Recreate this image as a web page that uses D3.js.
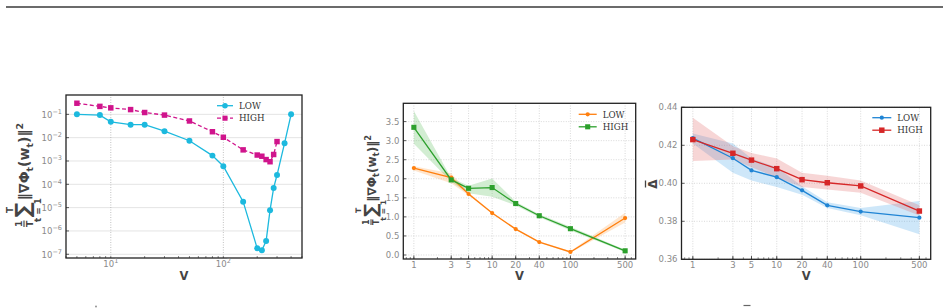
<!DOCTYPE html>
<html>
<head>
<meta charset="utf-8">
<script src="https://cdn.jsdelivr.net/npm/d3@7"></script>
<style>
  body { margin: 0; background: #fff; }
  svg { display: block; }
</style>
</head>
<body>
<script>
// ---- data: panel 1 (log-log) ----
let vLow1 = [5, 8, 10, 15, 20, 30, 50, 80, 100, 150, 200, 220, 240, 260, 280, 300, 350, 400];
let low1 = [0.1, 0.093, 0.048, 0.036, 0.036, 0.019, 0.0074, 0.0017, 6e-4, 1.8e-5, 1.8e-7, 1.5e-7, 3.7e-7, 7.8e-6, 7e-5, 2.5e-4, 5.8e-3, 0.1];
let vHigh1 = [5, 8, 10, 15, 20, 30, 50, 80, 100, 150, 200, 220, 240, 260, 280, 300];
let high1 = [0.3, 0.22, 0.19, 0.16, 0.12, 0.093, 0.052, 0.018, 0.0104, 0.003, 0.0018, 0.0016, 0.00115, 0.00093, 0.0019, 0.0068];
let yTicks1 = [-7, -6, -5, -4, -3, -2, -1];
let xTicks1 = [1, 2];

// ---- data: panels 2 and 3 share V ----
let V = [1, 3, 5, 10, 20, 40, 100, 500];
let vTickLabels = ["1", "3", "5", "10", "20", "40", "100", "500"];

let low2 = [2.28, 2.03, 1.60, 1.10, 0.68, 0.34, 0.08, 0.97];
let low2Lo = [2.22, 1.88, 1.57, 1.08, 0.66, 0.32, 0.06, 0.85];
let low2Hi = [2.33, 2.14, 1.64, 1.12, 0.70, 0.36, 0.10, 1.11];
let high2 = [3.35, 1.97, 1.75, 1.77, 1.35, 1.03, 0.69, 0.11];
let high2Lo = [2.92, 1.92, 1.62, 1.53, 1.30, 0.99, 0.64, 0.08];
let high2Hi = [3.78, 2.02, 1.82, 2.01, 1.40, 1.07, 0.74, 0.14];
let yTicks2 = [0, 0.5, 1.0, 1.5, 2.0, 2.5, 3.0, 3.5];

let low3 = [0.4238, 0.4132, 0.4068, 0.4032, 0.3963, 0.3884, 0.3851, 0.3819];
let low3Lo = [0.4210, 0.4056, 0.4015, 0.3980, 0.3940, 0.3870, 0.3832, 0.3732];
let low3Hi = [0.4262, 0.4210, 0.4130, 0.4085, 0.3985, 0.3900, 0.3870, 0.3907];
let high3 = [0.4230, 0.4158, 0.4122, 0.4077, 0.4019, 0.4003, 0.3986, 0.3854];
let high3Lo = [0.4118, 0.4125, 0.4085, 0.4030, 0.3980, 0.3968, 0.3950, 0.3830];
let high3Hi = [0.4345, 0.4195, 0.4160, 0.4130, 0.4055, 0.4040, 0.4015, 0.3885];
let yTicks3 = [0.36, 0.38, 0.40, 0.42, 0.44];

let seriesNames = ["LOW", "HIGH"];

const tickFont = "DejaVu Sans";
const tickColor = "#8a8a8a";
const labelColor = "#444";

let svg = d3.select("body").append("svg")
    .attr("width", 948)
    .attr("height", 308);

// top rule
svg.append("line")
    .attr("x1", 6).attr("x2", 943)
    .attr("y1", 7).attr("y2", 7)
    .style("stroke", "#3a3a3a").style("stroke-width", 1.6);

let minorLogTicks = (scale) => {
    let [a, b] = scale.domain();
    let out = [];
    for (let e = Math.floor(Math.log10(a)); e <= Math.ceil(Math.log10(b)); e++) {
        for (let m = 1; m < 10; m++) {
            let v = m * Math.pow(10, e);
            if (v >= a && v <= b) out.push(v);
        }
    }
    return out;
}

let drawLine = (g, xs, ys, x, y, color, dash) => {
    g.append("path")
        .datum(xs.map((v, i) => [v, ys[i]]))
        .attr("d", d3.line().x(d => x(d[0])).y(d => y(d[1])))
        .style("fill", "none")
        .style("stroke", color)
        .style("stroke-width", 1.3)
        .style("stroke-dasharray", dash || null);
}

let drawBand = (g, xs, lo, hi, x, y, color) => {
    g.append("path")
        .datum(xs.map((v, i) => [v, lo[i], hi[i]]))
        .attr("d", d3.area().x(d => x(d[0])).y0(d => y(d[1])).y1(d => y(d[2])))
        .style("fill", color)
        .style("fill-opacity", 0.25)
        .style("stroke", "none");
}

let drawMarkers = (g, xs, ys, x, y, color, shape, size) => {
    let sym = d3.symbol().type(shape === "square" ? d3.symbolSquare : d3.symbolCircle).size(size);
    g.selectAll(null)
        .data(xs.map((v, i) => [v, ys[i]]))
        .enter()
        .append("path")
            .attr("d", sym)
            .attr("transform", d => `translate(${x(d[0])},${y(d[1])})`)
            .style("fill", color);
}

let drawFrame = (g, x, y) => {
    let [x0, x1] = x.range();
    let [y0, y1] = y.range();
    g.append("rect")
        .attr("x", x0).attr("y", y1)
        .attr("width", x1 - x0).attr("height", y0 - y1)
        .style("fill", "none")
        .style("stroke", "#222")
        .style("stroke-width", 1.3);
}

let drawLegend = (g, lx, ly, len, gap, items) => {
    items.forEach((it, i) => {
        let yy = ly + i * gap;
        g.append("line")
            .attr("x1", lx).attr("x2", lx + len)
            .attr("y1", yy).attr("y2", yy)
            .style("stroke", it.color)
            .style("stroke-width", 1.3)
            .style("stroke-dasharray", it.dash || null);
        g.append("path")
            .attr("d", d3.symbol().type(it.shape === "square" ? d3.symbolSquare : d3.symbolCircle).size(it.size))
            .attr("transform", `translate(${lx + len / 2},${yy})`)
            .style("fill", it.color);
        g.append("text")
            .text(it.name)
            .attr("x", lx + len + 6)
            .attr("y", yy + 3.2)
            .style("font-family", "DejaVu Serif")
            .style("font-size", "8.7px")
            .style("fill", "#333");
    });
}

let drawV = (g, cx, baseline) => {
    g.append("text")
        .text("V")
        .attr("x", cx).attr("y", baseline)
        .attr("text-anchor", "middle")
        .style("font-family", "DejaVu Sans")
        .style("font-weight", "bold")
        .style("font-size", "11.5px")
        .style("fill", labelColor);
}

// gradient-norm label, built piece by piece, scaled to a length and centred
let gradLabel = (cx, cy, len) => {
    let outer = svg.append("g").attr("transform", `translate(${cx},${cy}) rotate(-90)`);
    let g = outer.append("g");
    let st = (t) => t.style("font-family", "DejaVu Sans").style("font-weight", "bold").style("fill", labelColor);
    let xpos = 0;
    // 1/T
    st(g.append("text").text("1").attr("x", xpos + 2.8).attr("y", -2).attr("text-anchor", "middle").style("font-size", "8px"));
    st(g.append("text").text("T").attr("x", xpos + 2.8).attr("y", 7.5).attr("text-anchor", "middle").style("font-size", "8px"));
    g.append("line").attr("x1", xpos).attr("x2", xpos + 5.6).attr("y1", 0).attr("y2", 0)
        .style("stroke", labelColor).style("stroke-width", 1);
    xpos += 8;
    // sum with limits
    let sig = st(g.append("text").text("\u2211").attr("x", xpos).attr("y", 5.5).style("font-size", "18px"));
    let sw = sig.node().getComputedTextLength();
    st(g.append("text").text("T").attr("x", xpos + sw / 2).attr("y", -9.5).attr("text-anchor", "middle").style("font-size", "7.5px"));
    st(g.append("text").text("t = 1").attr("x", xpos + sw / 2).attr("y", 14.5).attr("text-anchor", "middle").style("font-size", "7.5px"));
    xpos += sw + 2;
    let body = st(g.append("text").attr("x", xpos).attr("y", 4.5).style("font-size", "12px"));
    body.append("tspan").text("\u2016\u2207\u03a6");
    body.append("tspan").text("t").attr("dy", 3).style("font-size", "8px");
    body.append("tspan").text("(w").attr("dy", -3);
    body.append("tspan").text("t").attr("dy", 3).style("font-size", "8px");
    body.append("tspan").text(")\u2016").attr("dy", -3);
    body.append("tspan").text("2").attr("dy", -5).style("font-size", "8px");
    let bb = g.node().getBBox();
    let k = len / bb.width;
    g.attr("transform", `scale(${k}) translate(${-(bb.x + bb.width / 2)},0)`);
}

// ================= panel 1 =================
{
    let x = d3.scaleLog().domain([4, 500]).range([66, 302]);
    let y = d3.scaleLog().domain([Math.pow(10, -7.16), Math.pow(10, -0.17)]).range([258, 95]);
    let g = svg.append("g");
    let [x0, x1] = x.range();
    let [y0, y1] = y.range();

    g.selectAll(null).data(yTicks1).enter().append("line")
        .attr("x1", x0).attr("x2", x1)
        .attr("y1", d => y(Math.pow(10, d))).attr("y2", d => y(Math.pow(10, d)))
        .style("stroke", "#e4e4e4").style("stroke-width", 1);
    g.selectAll(null).data(xTicks1).enter().append("line")
        .attr("x1", d => x(Math.pow(10, d))).attr("x2", d => x(Math.pow(10, d)))
        .attr("y1", y0).attr("y2", y1)
        .style("stroke", "#b0b0b0").style("stroke-width", 0.8).style("stroke-dasharray", "1,1.5");

    drawLine(g, vHigh1, high1, x, y, "#d0148c", "4,2.5");
    drawLine(g, vLow1, low1, x, y, "#1cb9de");
    drawMarkers(g, vLow1, low1, x, y, "#1cb9de", "circle", 28);
    drawMarkers(g, vHigh1, high1, x, y, "#d0148c", "square", 30);

    // minor ticks
    g.selectAll(null).data(minorLogTicks(x)).enter().append("line")
        .attr("x1", d => x(d)).attr("x2", d => x(d))
        .attr("y1", y0).attr("y2", y0 - 2)
        .style("stroke", "#333").style("stroke-width", 0.6);
    g.selectAll(null).data(yTicks1).enter().append("line")
        .attr("x1", x0).attr("x2", x0 + 3)
        .attr("y1", d => y(Math.pow(10, d))).attr("y2", d => y(Math.pow(10, d)))
        .style("stroke", "#333").style("stroke-width", 0.8);
    drawFrame(g, x, y);

    // y tick labels 10^e
    yTicks1.forEach(e => {
        let t = g.append("text")
            .attr("x", x0 - 4).attr("y", y(Math.pow(10, e)) + 3.5)
            .attr("text-anchor", "end")
            .style("font-family", tickFont).style("font-size", "8.5px").style("fill", tickColor);
        t.append("tspan").text("10");
        t.append("tspan").text("\u2212" + (-e)).attr("dy", -4).style("font-size", "6.5px");
    });
    xTicks1.forEach(e => {
        let t = g.append("text")
            .attr("x", x(Math.pow(10, e))).attr("y", y0 + 9)
            .attr("text-anchor", "middle")
            .style("font-family", tickFont).style("font-size", "8.5px").style("fill", tickColor);
        t.append("tspan").text("10");
        t.append("tspan").text(String(e)).attr("dy", -4).style("font-size", "6.5px");
    });

    drawV(g, 184, 280);
    gradLabel(24, 175, 104);
    drawLegend(g, 217, 105.7, 16, 12.5, [
        {name: seriesNames[0], color: "#1cb9de", shape: "circle", size: 24},
        {name: seriesNames[1], color: "#d0148c", shape: "square", size: 26, dash: "4,2.5"}
    ]);
}

// shared drawing for panels 2 and 3
let vPanel = (opts) => {
    let x = d3.scaleLog().domain([Math.pow(10, -0.135), Math.pow(10, 2.834)]).range(opts.xr);
    let y = d3.scaleLinear().domain(opts.yd).range(opts.yr);
    let g = svg.append("g");
    let [x0, x1] = x.range();
    let [y0, y1] = y.range();

    g.selectAll(null).data(opts.yTicks).enter().append("line")
        .attr("x1", x0).attr("x2", x1)
        .attr("y1", d => y(d)).attr("y2", d => y(d))
        .style("stroke", "#cfcfcf").style("stroke-width", 0.8).style("stroke-dasharray", "1,1.5");
    g.selectAll(null).data(V).enter().append("line")
        .attr("x1", d => x(d)).attr("x2", d => x(d))
        .attr("y1", y0).attr("y2", y1)
        .style("stroke", "#cfcfcf").style("stroke-width", 0.8).style("stroke-dasharray", "1,1.5");

    opts.series.forEach(s => drawBand(g, V, s.lo, s.hi, x, y, s.band));
    opts.series.forEach(s => {
        drawLine(g, V, s.vals, x, y, s.color);
        drawMarkers(g, V, s.vals, x, y, s.color, s.shape, s.size);
    });

    g.selectAll(null).data(minorLogTicks(x)).enter().append("line")
        .attr("x1", d => x(d)).attr("x2", d => x(d))
        .attr("y1", y0).attr("y2", y0 - 2)
        .style("stroke", "#333").style("stroke-width", 0.6);
    g.selectAll(null).data(V).enter().append("line")
        .attr("x1", d => x(d)).attr("x2", d => x(d))
        .attr("y1", y0).attr("y2", y0 - 3.5)
        .style("stroke", "#333").style("stroke-width", 0.8);
    g.selectAll(null).data(opts.yTicks).enter().append("line")
        .attr("x1", x0).attr("x2", x0 + 3)
        .attr("y1", d => y(d)).attr("y2", d => y(d))
        .style("stroke", "#333").style("stroke-width", 0.8);
    drawFrame(g, x, y);

    g.selectAll(null).data(V).enter().append("text")
        .text((d, i) => vTickLabels[i])
        .attr("x", d => x(d)).attr("y", y0 + 8.5)
        .attr("text-anchor", "middle")
        .style("font-family", tickFont).style("font-size", "8.5px").style("fill", tickColor);
    g.selectAll(null).data(opts.yTicks).enter().append("text")
        .text(opts.fmt)
        .attr("x", x0 - 4).attr("y", d => y(d) + 3)
        .attr("text-anchor", "end")
        .style("font-family", tickFont).style("font-size", "8.5px").style("fill", tickColor);

    drawV(g, (x0 + x1) / 2 + opts.vShift, 280);
    drawLegend(g, opts.leg[0], opts.leg[1], opts.leg[2], 12.5, opts.series.map((s, i) => (
        {name: seriesNames[i], color: s.color, shape: s.shape, size: s.size}
    )));
    return g;
}

// ================= panel 2 =================
vPanel({
    xr: [403.3, 635.7], yd: [-0.105, 3.98], yr: [259, 103.3],
    yTicks: yTicks2, fmt: d3.format(".1f"), vShift: 0, leg: [578.7, 114.3, 18],
    series: [
        {vals: low2, lo: low2Lo, hi: low2Hi, color: "#ff7f0e", band: "#ff9a3c", shape: "circle", size: 14},
        {vals: high2, lo: high2Lo, hi: high2Hi, color: "#2ca02c", band: "#4cb84c", shape: "square", size: 26}
    ]
});
gradLabel(371, 180, 90);

// ================= panel 3 =================
vPanel({
    xr: [681.5, 930.7], yd: [0.36, 0.44], yr: [259.3, 107.3],
    yTicks: yTicks3, fmt: d3.format(".2f"), vShift: 0, leg: [872.3, 117.7, 19],
    series: [
        {vals: low3, lo: low3Lo, hi: low3Hi, color: "#1f84d4", band: "#3a9ee6", shape: "circle", size: 14},
        {vals: high3, lo: high3Lo, hi: high3Hi, color: "#d62728", band: "#e05a5a", shape: "square", size: 30}
    ]
});
// delta-bar label: Delta glyph plus its bar
{
    let g = svg.append("g").attr("transform", "translate(657,184) rotate(-90)");
    g.append("text")
        .text("\u0394")
        .attr("text-anchor", "middle")
        .style("font-family", "DejaVu Sans").style("font-weight", "bold")
        .style("font-size", "12px").style("fill", labelColor);
    g.append("line")
        .attr("x1", -3.5).attr("x2", 3.5).attr("y1", -11.5).attr("y2", -11.5)
        .style("stroke", labelColor).style("stroke-width", 1.3);
}

// tops of the cut-off captions below the figure
svg.append("circle").attr("cx", 96).attr("cy", 306.5).attr("r", 0.9).style("fill", "#888");
svg.append("line").attr("x1", 743.5).attr("x2", 750.5).attr("y1", 305.5).attr("y2", 305.5)
    .style("stroke", "#666").style("stroke-width", 1.2);
</script>
</body>
</html>
